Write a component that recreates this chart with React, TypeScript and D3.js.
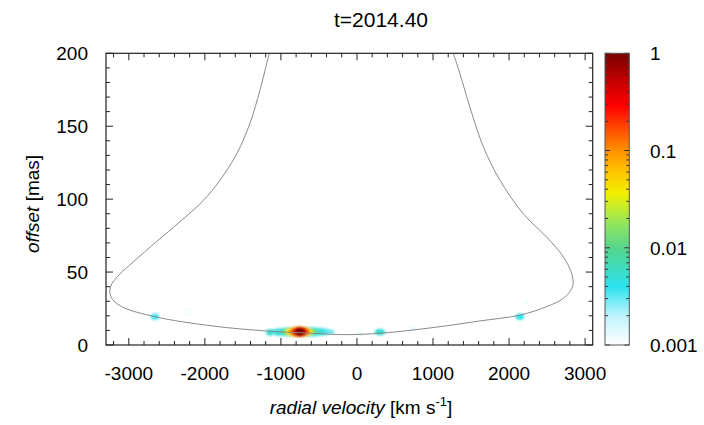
import * as d3 from 'd3';

// velocity [km/s], offset [mas] read along the traced envelope
const curvePoints: [number, number][] = [
  [-1153, 200], [-1275, 175], [-1407, 152], [-1582, 131], [-1801, 113],
  [-2021, 99], [-2327, 84.5], [-2634, 71], [-2941, 57], [-3130, 48],
  [-3240, 40], [-3235, 33], [-3100, 26.5], [-2656, 19.4], [-1890, 13],
  [-1187, 9.6], [-575, 8], [-135, 7.1], [302, 8], [740, 10.3],
  [1180, 13.2], [1617, 16.5], [2143, 20.5], [2494, 26.3], [2713, 32],
  [2836, 40], [2823, 49], [2713, 60.5], [2494, 74], [2187, 90],
  [1880, 113], [1661, 136], [1486, 163], [1354, 186], [1266, 200],
];

// spots: velocity, offset, half width (km/s), half height (mas), normalized intensity
const spots: [number, number, number, number, number][] = [
  [-730, 9.0, 440, 3.4, 0.003],
  [-740, 9.0, 340, 3.3, 0.005],
  [-760, 9.0, 240, 3.4, 0.012],
  [-760, 9.1, 185, 3.6, 0.04],
  [-755, 9.1, 140, 3.6, 0.12],
  [-750, 9.1, 100, 3.4, 0.4],
  [-750, 9.1, 60, 2.6, 1.0],
  [-1144, 8.7, 50, 2.3, 0.005],
  [-1035, 8.7, 55, 2.3, 0.0045],
  [302, 8.8, 70, 2.3, 0.005],
  [40, 8.0, 40, 1.5, 0.0013],
  [740, 10.8, 40, 1.5, 0.0014],
  [2143, 19.4, 55, 2.2, 0.004],
  [2230, 29.7, 40, 1.5, 0.0012],
  [-2656, 19.4, 55, 2.2, 0.0035],
  [-2230, 22.8, 40, 1.5, 0.0012],
];

const xTicks = [-3000, -2000, -1000, 0, 1000, 2000, 3000];
const yTicks = [0, 50, 100, 150, 200];
const cbTicks = [0.001, 0.01, 0.1, 1];
const cbLabels = ['0.001', '0.01', '0.1', '1'];

const paletteT = [0, 0.1, 0.2, 0.33, 0.42, 0.52, 0.6, 0.667, 0.75, 0.82, 0.9, 1];
const paletteC = ['#ffffff', '#bff3fc', '#2de2ef', '#52d68e', '#96e65a', '#f2f000',
  '#ffc000', '#ff9000', '#ff4400', '#ff0000', '#c80000', '#780000'];

const W = 704, H = 425;
const plot = { left: 106, right: 592.7, top: 53.3, bottom: 345 };
const cb = { left: 605, right: 629.3 };
const font = '"Liberation Sans", Arial, sans-serif';

export default function App() {
  const x = d3.scaleLinear().domain([-3300, 3100]).range([plot.left, plot.right]);
  const y = d3.scaleLinear().domain([0, 200]).range([plot.bottom, plot.top]);
  const cbY = d3.scaleLog().domain([0.001, 1]).range([plot.bottom, plot.top]);
  const tOf = d3.scaleLog().domain([0.001, 1]).range([0, 1]).clamp(true);
  const pal = d3.scaleLinear<string>().domain(paletteT).range(paletteC).interpolate(d3.interpolateRgb);
  const color = (v: number) => pal(tOf(v));

  const line = d3.line<[number, number]>()
    .x(d => x(d[0])).y(d => y(d[1]))
    .curve(d3.curveCatmullRom.alpha(0.5));

  const xMinor = d3.range(-3200, 3001, 200).filter(v => v % 1000 !== 0);
  const yMinor = d3.range(0, 201, 10).filter(v => v % 50 !== 0);
  const cbMinor: number[] = [];
  [0.001, 0.01, 0.1].forEach(dec => { for (let k = 2; k <= 9; k++) cbMinor.push(dec * k); });

  const gradStops = d3.range(0, 1.0001, 0.02);
  const maj = 7, mn = 4;

  return (
    <svg width={W} height={H} style={{ position: 'absolute', left: 0, top: 0, background: '#fff' }} fontFamily={font}>
      <defs>
        <clipPath id="pclip">
          <rect x={plot.left} y={plot.top} width={plot.right - plot.left} height={plot.bottom - plot.top} />
        </clipPath>
        <filter id="blur" x="-50%" y="-50%" width="200%" height="200%">
          <feGaussianBlur stdDeviation="1.1" />
        </filter>
        <linearGradient id="cbgrad" x1="0" y1="1" x2="0" y2="0">
          {gradStops.map(t => (
            <stop key={t} offset={t} stopColor={pal(t)} />
          ))}
        </linearGradient>
      </defs>

      <text x={381} y={27} textAnchor="middle" fontSize={21}>t=2014.40</text>

      <g clipPath="url(#pclip)">
        <g filter="url(#blur)">
          {spots.slice().sort((a, b) => a[4] - b[4]).map((s, i) => (
            <ellipse key={i} cx={x(s[0])} cy={y(s[1])}
              rx={x(s[0] + s[2]) - x(s[0])} ry={y(0) - y(s[3])}
              fill={color(s[4])} />
          ))}
        </g>
        <path d={line(curvePoints) ?? ''} fill="none" stroke="#8a8a8a" strokeWidth={1} />
      </g>

      {/* frame ticks */}
      <g stroke="#222" strokeWidth={1}>
        {xTicks.map(v => (
          <g key={'xt' + v}>
            <line x1={x(v)} x2={x(v)} y1={plot.bottom} y2={plot.bottom - maj} />
            <line x1={x(v)} x2={x(v)} y1={plot.top} y2={plot.top + maj} />
          </g>
        ))}
        {xMinor.map(v => (
          <g key={'xm' + v}>
            <line x1={x(v)} x2={x(v)} y1={plot.bottom} y2={plot.bottom - mn} />
            <line x1={x(v)} x2={x(v)} y1={plot.top} y2={plot.top + mn} />
          </g>
        ))}
        {yTicks.map(v => (
          <g key={'yt' + v}>
            <line x1={plot.left} x2={plot.left + maj} y1={y(v)} y2={y(v)} />
            <line x1={plot.right} x2={plot.right - maj} y1={y(v)} y2={y(v)} />
          </g>
        ))}
        {yMinor.map(v => (
          <g key={'ym' + v}>
            <line x1={plot.left} x2={plot.left + mn} y1={y(v)} y2={y(v)} />
            <line x1={plot.right} x2={plot.right - mn} y1={y(v)} y2={y(v)} />
          </g>
        ))}
      </g>
      <rect x={plot.left} y={plot.top} width={plot.right - plot.left} height={plot.bottom - plot.top}
        fill="none" stroke="#222" strokeWidth={1.2} />

      {xTicks.map(v => (
        <text key={'xl' + v} x={x(v)} y={380} textAnchor="middle" fontSize={19}>{v}</text>
      ))}
      {yTicks.map(v => (
        <text key={'yl' + v} x={88} y={y(v) + 7} textAnchor="end" fontSize={19}>{v}</text>
      ))}

      <text x={361} y={414} textAnchor="middle" fontSize={19}>
        <tspan fontStyle="italic">radial velocity</tspan>
        <tspan> [km s</tspan>
        <tspan dy={-8} fontSize={13}>-1</tspan>
        <tspan dy={8}>]</tspan>
      </text>
      <text transform="translate(39,204) rotate(-90)" textAnchor="middle" fontSize={19}>
        <tspan fontStyle="italic">offset</tspan>
        <tspan> [mas]</tspan>
      </text>

      {/* colour bar */}
      <rect x={cb.left} y={plot.top} width={cb.right - cb.left} height={plot.bottom - plot.top} fill="url(#cbgrad)" />
      <g stroke="#333" strokeWidth={1}>
        {cbTicks.map(v => (
          <g key={'ct' + v}>
            <line x1={cb.left} x2={cb.left + 5} y1={cbY(v)} y2={cbY(v)} />
            <line x1={cb.right} x2={cb.right - 5} y1={cbY(v)} y2={cbY(v)} />
          </g>
        ))}
        {cbMinor.map(v => (
          <g key={'cm' + v}>
            <line x1={cb.left} x2={cb.left + 3} y1={cbY(v)} y2={cbY(v)} />
            <line x1={cb.right} x2={cb.right - 3} y1={cbY(v)} y2={cbY(v)} />
          </g>
        ))}
      </g>
      <rect x={cb.left} y={plot.top} width={cb.right - cb.left} height={plot.bottom - plot.top}
        fill="none" stroke="#555" strokeWidth={1} />
      {cbTicks.map((v, i) => (
        <text key={'cl' + v} x={650} y={cbY(v) + 7} fontSize={19}>{cbLabels[i]}</text>
      ))}
    </svg>
  );
}
